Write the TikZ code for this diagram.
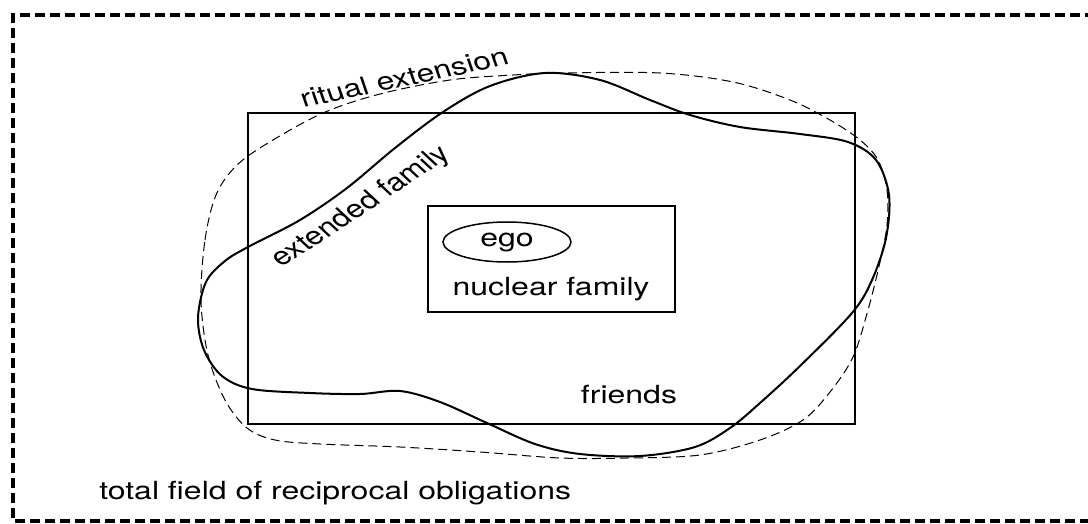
\documentclass[tikz,border=0pt]{standalone}
\usepackage{fontspec}
\setmainfont{TeX Gyre Heros}
\usetikzlibrary{shapes.geometric}
\begin{document}
\begin{tikzpicture}[x=1pt,y=-1pt,
  lbl/.style={font=\fontsize{25}{30}\selectfont, inner sep=0pt, xscale=1.28},
  box/.style={draw, line width=2.2pt, inner sep=0pt},
  frame/.style={line width=3.5pt, dash pattern=on 10pt off 5pt},
  ritual/.style={line width=1pt, dash pattern=on 9pt off 5pt},
  kin/.style={line width=2pt}]
\useasboundingbox (0,0) rectangle (1088,524);
\clip (0,0) rectangle (1088,524);

% outer field, open to the right
\coordinate (ftr) at (1110,15);
\coordinate (ftl) at (13,15);
\coordinate (fbl) at (13,521);
\coordinate (fbr) at (1110,521);
\draw[frame] (ftr) -- (ftl) -- (fbl) -- (fbr);

% friends box and nuclear family box
\node[box, minimum width=607pt, minimum height=311pt] (friendsbox) at (551.5,268.5) {};
\node[box, minimum width=247pt, minimum height=106pt] (nuclear) at (551.5,259) {};
\node[draw, ellipse, line width=1.5pt, minimum width=128pt, minimum height=40pt, inner sep=0pt,
      font=\fontsize{25}{30}\selectfont] (ego) at (507,242) {\scalebox{1.28}[1]{ego}};

% ritual extension (dashed)
\draw[ritual] plot[smooth cycle, tension=0.55] coordinates {
  (201,300) (205,240) (216,195) (236,166) (268,143) (323,113) (380,94) (450,80)
  (513,75) (563,73) (660,73) (733,82) (790,100) (830,120) (860,140) (878,160)
  (887,190) (887,225) (880,262) (868,310) (853,357) (830,392) (803,420) (760,440)
  (700,455) (627,458) (560,458) (480,452) (400,447) (320,444) (275,440) (247,428)
  (225,400) (208,355)};

% extended family (solid)
\draw[kin] plot[smooth cycle, tension=0.55] coordinates {
  (198,318) (206,282) (225,261) (248,247) (300,220) (347,188) (395,148) (443,112)
  (490,86) (545,73) (600,80) (650,100) (690,115) (740,127) (800,134) (848,142)
  (876,160) (889,195) (886,238) (872,280) (852,313) (800,366) (760,403) (730,428)
  (695,447) (640,456) (580,454) (535,444) (487,423) (440,402) (400,391) (360,394)
  (310,393) (252,389) (222,376) (204,350)};

% labels
\node[lbl, anchor=base] (nuclab) at (551,295) {nuclear family};
\node[lbl, anchor=base] (friends) at (629,403) {friends};
\node[lbl, anchor=base west] (total) at (99,499) {total field of reciprocal obligations};
\node[lbl, rotate=15, anchor=base] (ritlab) at (407,86) {ritual extension};
\node[lbl, rotate=40, anchor=base] (extlab) at (367,212) {extended family};
\end{tikzpicture}
\end{document}
